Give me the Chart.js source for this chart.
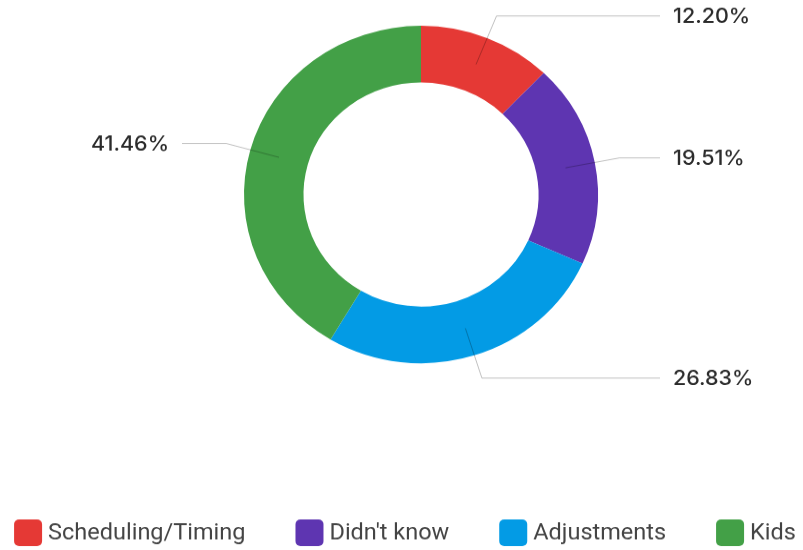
<!DOCTYPE html>
<html>
<head>
<meta charset="utf-8">
<script src="https://cdn.jsdelivr.net/npm/chart.js@4.4.0/dist/chart.umd.min.js"></script>
<style>
  html, body { margin: 0; padding: 0; background: #fff; overflow: hidden; }
  /* the reference ring is slightly squashed vertically */
  #wrap { width: 803px; height: 577px; transform: scaleY(0.953); transform-origin: 0 0; }
</style>
</head>
<body>
<div id="wrap"><canvas id="chart" width="803" height="577"></canvas></div>
<script>
const categories = ['Scheduling/Timing', "Didn't know", 'Adjustments', 'Kids'];
const shares = [12.20, 19.51, 26.83, 41.46];
const sliceColors = ['#E53935', '#5E35B1', '#039BE5', '#43A047'];

// leader lines + percentage labels
const leaderLabels = {
  id: 'leaderLabels',
  afterDatasetsDraw(chart) {
    const ctx = chart.ctx;
    const meta = chart.getDatasetMeta(0);
    meta.data.forEach((arc, i) => {
      const {x, y, startAngle, endAngle, innerRadius, outerRadius} =
        arc.getProps(['x', 'y', 'startAngle', 'endAngle', 'innerRadius', 'outerRadius'], true);
      const mid = (startAngle + endAngle) / 2;
      const r0 = (innerRadius + outerRadius) / 2;
      const r1 = outerRadius + 25;
      const x0 = x + Math.cos(mid) * r0, y0 = y + Math.sin(mid) * r0;
      const x1 = x + Math.cos(mid) * r1, y1 = y + Math.sin(mid) * r1;
      const right = Math.cos(mid) >= 0;
      const x2 = right ? x + 239 : x - 239;

      ctx.save();
      ctx.strokeStyle = 'rgba(0,0,0,0.25)';
      ctx.lineWidth = 1;
      ctx.beginPath();
      ctx.moveTo(x0, y0);
      ctx.lineTo(x1, y1);
      ctx.lineTo(x2, y1);
      ctx.stroke();

      ctx.fillStyle = '#2b2b2b';
      ctx.font = '500 21.5px Inter';
      ctx.textBaseline = 'middle';
      ctx.textAlign = right ? 'left' : 'right';
      ctx.fillText(shares[i].toFixed(2) + '%', right ? x2 + 13 : x2 - 13, y1 + 1);
      ctx.restore();
    });
  }
};

// legend row at the bottom (wider spacing than the built-in legend allows)
const bottomLegend = {
  id: 'bottomLegend',
  afterDraw(chart) {
    const ctx = chart.ctx;
    ctx.save();
    ctx.font = '23.5px Roboto';
    const widths = categories.map(t => ctx.measureText(t).width);
    const box = 28, textGap = 6, itemGap = 50;
    const total = widths.reduce((s, w) => s + box + textGap + w, 0) + itemGap * (categories.length - 1);
    let x = 405 - total / 2;
    const y = 545;
    categories.forEach((t, i) => {
      ctx.fillStyle = sliceColors[i];
      ctx.beginPath();
      ctx.roundRect(x, y, box, box, 5);
      ctx.fill();
      ctx.fillStyle = '#444';
      ctx.textBaseline = 'middle';
      ctx.textAlign = 'left';
      ctx.fillText(t, x + box + textGap, y + box / 2 + 1);
      x += box + textGap + widths[i] + itemGap;
    });
    ctx.restore();
  }
};

new Chart(document.getElementById('chart'), {
  type: 'doughnut',
  data: {
    labels: categories,
    datasets: [{
      data: shares,
      backgroundColor: sliceColors,
      borderWidth: 0,
      cutout: '66.4%'
    }]
  },
  options: {
    responsive: false,
    animation: false,
    layout: {
      padding: {top: 26.9, bottom: 195.7, left: 244, right: 205}
    },
    plugins: {
      legend: {display: false},
      tooltip: {enabled: false}
    }
  },
  plugins: [leaderLabels, bottomLegend]
});
</script>
</body>
</html>
